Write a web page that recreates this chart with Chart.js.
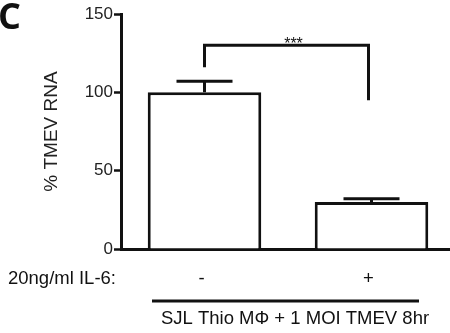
<!DOCTYPE html>
<html>
<head>
<meta charset="utf-8">
<script src="https://cdn.jsdelivr.net/npm/chart.js@4/dist/chart.umd.min.js"></script>
<style>
	html, body { margin: 0; padding: 0; background: #fff; overflow: hidden; }
	#wrap { width: 456px; height: 333px; }
</style>
</head>
<body>
<div id="wrap"><canvas id="c" width="456" height="333"></canvas></div>
<script>
// data
var categories = ["-", "+"];
var meanValues = [100, 30];
var errorUpper = [107, 32];
var yTicks = [0, 50, 100, 150];
var bracketTop = 130;
var bracketLegs = [116, 95];
var sigLabel = "***";
var treatLabel = "20ng/ml IL-6:";
var groupLabel = "SJL Thio M\u03A6 + 1 MOI TMEV 8hr";
var yTitle = "% TMEV RNA";
var panelLetter = "C";

var INK = "#111";
var FONT = "'Liberation Sans', Arial, sans-serif";

var extras = {
	id: "extras",
	afterDatasetsDraw: function(chart) {
		var ctx = chart.ctx;
		var xs = chart.scales.x;
		var ys = chart.scales.y;

		ctx.save();
		ctx.strokeStyle = INK;
		ctx.lineCap = "butt";

		// error bars
		for(var i = 0; i < meanValues.length; i++) {
			var cx = xs.getPixelForValue(i);
			var yTop = ys.getPixelForValue(meanValues[i]);
			var yErr = ys.getPixelForValue(errorUpper[i]);
			ctx.lineWidth = 3;
			ctx.beginPath();
			ctx.moveTo(cx, yTop);
			ctx.lineTo(cx, yErr);
			ctx.moveTo(cx - 28, yErr);
			ctx.lineTo(cx + 28, yErr);
			ctx.stroke();
		}

		// significance bracket
		var x0 = xs.getPixelForValue(0);
		var x1 = xs.getPixelForValue(1) - 3;
		var yb = ys.getPixelForValue(bracketTop);
		ctx.lineWidth = 3;
		ctx.lineJoin = "miter";
		ctx.beginPath();
		ctx.moveTo(x0, ys.getPixelForValue(bracketLegs[0]));
		ctx.lineTo(x0, yb);
		ctx.lineTo(x1, yb);
		ctx.lineTo(x1, ys.getPixelForValue(bracketLegs[1]));
		ctx.stroke();

		ctx.fillStyle = INK;
		ctx.font = "16px " + FONT;
		ctx.textAlign = "center";
		ctx.textBaseline = "alphabetic";
		ctx.fillText(sigLabel, (x0 + x1) / 2 + 7, yb + 4);

		// treatment row
		ctx.font = "18.5px " + FONT;
		ctx.textBaseline = "middle";
		ctx.textAlign = "left";
		ctx.fillText(treatLabel, 8, 279);
		ctx.textAlign = "center";
		for(var j = 0; j < categories.length; j++) {
			ctx.fillText(categories[j], xs.getPixelForValue(j) - 3, 279);
		}

		// group line + label
		ctx.lineWidth = 3;
		ctx.beginPath();
		ctx.moveTo(152, 301);
		ctx.lineTo(419, 301);
		ctx.stroke();
		ctx.fillText(groupLabel, 295, 319);

		// panel letter
		ctx.font = "bold 36px 'Open Sans', 'DejaVu Sans', sans-serif";
		ctx.textAlign = "left";
		ctx.textBaseline = "alphabetic";
		ctx.fillText(panelLetter, -2, 29);

		ctx.restore();
	}
};

var chart = new Chart(document.getElementById("c").getContext("2d"), {
	type: "bar",
	data: {
		labels: categories,
		datasets: [
			{
				data: meanValues,
				backgroundColor: "#fff",
				borderColor: INK,
				borderWidth: 3,
				barPercentage: 0.68,
				categoryPercentage: 1.0
			}
		]
	},
	options: {
		responsive: false,
		animation: false,
		devicePixelRatio: 1,
		layout: { padding: { left: 0, right: 1, top: 14, bottom: 0 } },
		plugins: {
			legend: { display: false },
			tooltip: { enabled: false }
		},
		scales: {
			x: {
				grid: { display: true, drawOnChartArea: false, drawTicks: false },
				border: { display: true, color: INK, width: 3 },
				ticks: { display: false },
				afterFit: function(s) { s.height = 84; }
			},
			y: {
				min: yTicks[0],
				max: yTicks[yTicks.length - 1],
				afterBuildTicks: function(s) {
					s.ticks = yTicks.map(function(v) { return { value: v }; });
				},
				grid: { drawOnChartArea: false, drawTicks: true, tickLength: 7, tickWidth: 2.5, tickColor: INK },
				border: { display: true, color: INK, width: 3 },
				ticks: { color: "#222", font: { size: 17, family: FONT }, padding: 1 },
				title: {
					display: true,
					text: yTitle,
					color: "#222",
					font: { size: 19, family: FONT },
					padding: { top: 40, bottom: 0 }
				},
				afterFit: function(s) { s.width = 121; }
			}
		}
	},
	plugins: [extras]
});
</script>
</body>
</html>
